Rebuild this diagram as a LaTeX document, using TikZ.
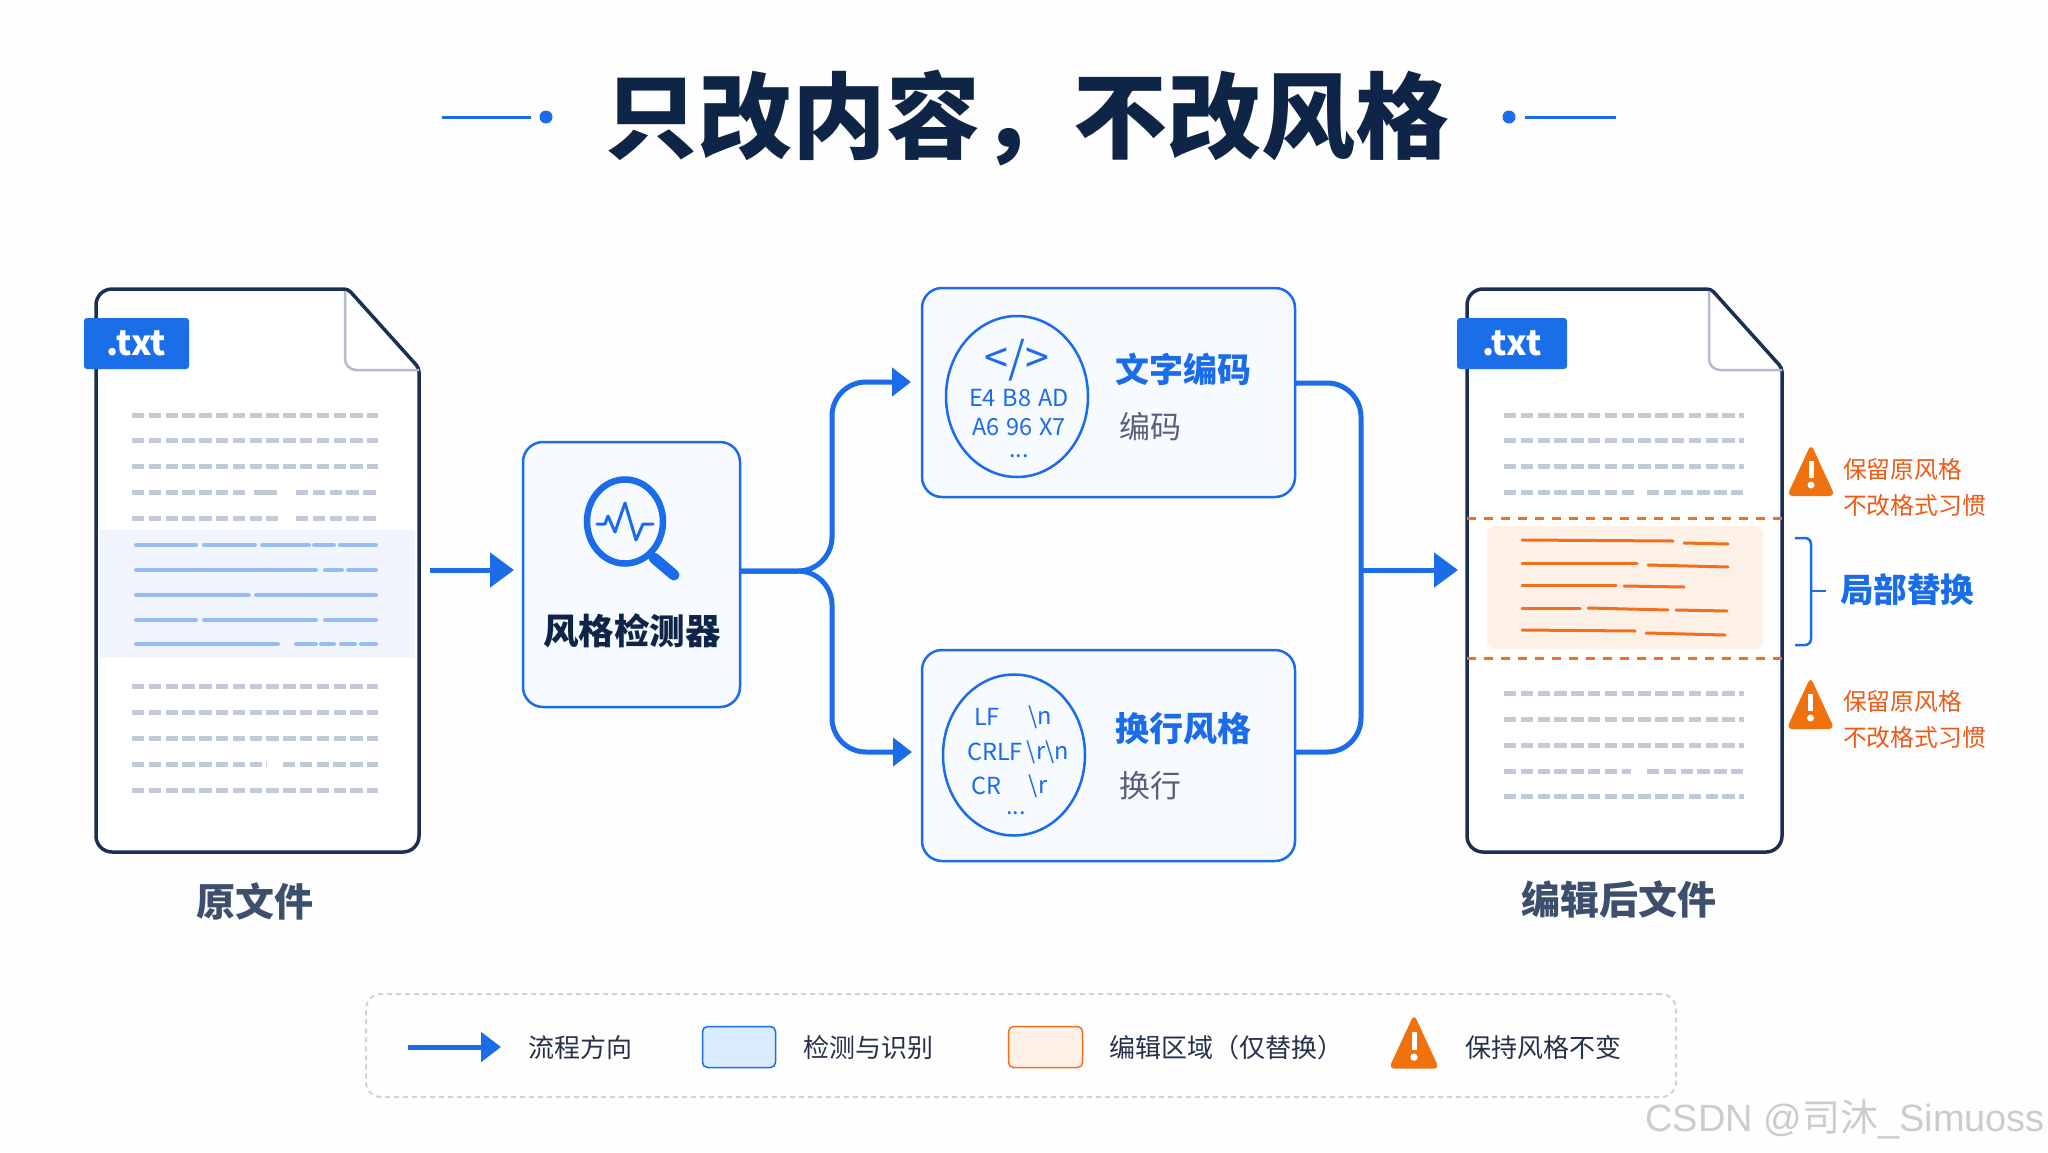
\documentclass[tikz,border=0pt]{standalone}
\usepackage{fontspec}
\setmainfont{Noto Sans CJK SC}
\newfontfamily\wmfont{Liberation Sans}
\usepackage{xcolor}
\usetikzlibrary{%
  arrows.meta, calc, positioning, shapes.geometric
}
\definecolor{pagewhite}{HTML}{FEFEFF}
\definecolor{flowblue}{HTML}{1A6CE8}
\definecolor{tabblue}{HTML}{1A6FE8}
\definecolor{docnavy}{HTML}{1B2F55}
\definecolor{titlenavy}{HTML}{0F2547}
\definecolor{foldgrey}{HTML}{B4BCCB}
\definecolor{dashgrey}{HTML}{C2C9D7}
\definecolor{bandblue}{HTML}{F1F6FE}
\definecolor{lineblue}{HTML}{97BDF2}
\definecolor{boxfill}{HTML}{F7FAFF}
\definecolor{editorange}{HTML}{F2701D}
\definecolor{editfill}{HTML}{FDF0E7}
\definecolor{warnorange}{HTML}{F0720F}
\definecolor{notered}{HTML}{EE5A14}
\definecolor{labelslate}{HTML}{3E4F6E}
\definecolor{subgrey}{HTML}{56607A}
\definecolor{legendink}{HTML}{26324C}
\definecolor{legendedge}{HTML}{CBD2E4}
\definecolor{markgrey}{HTML}{CCCCCC}
\newcommand{\fsz}[1]{\fontsize{#1}{#1}\selectfont}

\begin{document}
\begin{tikzpicture}[%
    x=1pt,y=-1pt,
    >={Triangle[length=24pt,width=34pt]},
    every node/.style={inner sep=0pt,outer sep=0pt,text centered},
    docbody/.style={minimum width=#1,minimum height=563pt},
    tab/.style={fill=tabblue,text=white,rounded corners=3pt,minimum height=51pt,font=\fsz{34.5}\bfseries},
    docline/.style={draw=docnavy,fill=white,line width=3.5pt},
    foldline/.style={draw=foldgrey,line width=2.5pt,rounded corners=11pt},
    greyline/.style={draw=dashgrey,line width=5pt,dash pattern=on 12.3pt off 4.5pt},
    blueline/.style={draw=lineblue,line width=4pt,line cap=round},
    orangeline/.style={draw=editorange,line width=3pt,line cap=round},
    box/.style={draw=flowblue,fill=boxfill,line width=2.5pt,rounded corners=20pt},
    flow/.style={draw=flowblue,line width=5pt},
    branch/.style={flow,rounded corners=34pt,>={Triangle[length=19pt,width=28pt]}},
    round/.style={draw=flowblue,line width=2.5pt,ellipse,minimum width=142pt,minimum height=161pt},
    code/.style={text=flowblue,font=\fsz{23.5}},
    boxtitle/.style={text=flowblue,font=\fsz{34}\bfseries},
    boxsub/.style={text=subgrey,font=\fsz{31}},
    doclabel/.style={text=labelslate,font=\fsz{39}\bfseries},
    note/.style={text=notered,font=\fsz{23.8},anchor=west},
    legendtext/.style={text=legendink,font=\fsz{26},anchor=west}
  ]

  \useasboundingbox (0,0) rectangle (2048,1152);
  \fill[pagewhite] (0,0) rectangle (2048,1152);

  % Title
  \node[text=titlenavy, font=\fsz{93.8}\bfseries] (title) at (1027,118) {只改内容，不改风格};
  \coordinate (ruleA) at (442,117);
  \coordinate (ruleB) at (531,117);
  \coordinate (ruleC) at (1525,117);
  \coordinate (ruleD) at (1616,117);
  \draw[flowblue, line width=3pt] (ruleA) to (ruleB);
  \draw[flowblue, line width=3pt] (ruleC) to (ruleD);
  \fill[flowblue] (546,117) circle (6.5);
  \fill[flowblue] (1509,117) circle (6.5);

  % Original file
  \node[docbody=323pt] (orig) at (257.5,570.5) {};
  \draw[docline, rounded corners=16pt] (orig.south west) -- (orig.north west)
    [rounded corners=4pt] -- ([xshift=-71pt]orig.north east)
    -- ([yshift=-79pt]orig.north east) [rounded corners=16pt] -- (orig.south east) -- cycle;
  \draw[foldline] ([xshift=-74pt,yshift=-2pt]orig.north east) -- ([xshift=-74pt,yshift=-81pt]orig.north east)
    -- ([yshift=-81pt]orig.north east);
  \node[tab, minimum width=105pt] (origtab) at (136.5,343.5) {\raisebox{-2pt}{.txt}};

  \foreach \y in {415,440,466,686,712,738,790}
    \draw[greyline] (132,\y) -- (378,\y);
  \draw[greyline] (132,492) -- (248,492);
  \draw[greyline, dash pattern=] (254,492) -- (277,492);
  \draw[greyline] (296,492) -- (378,492);
  \draw[greyline] (132,518) -- (278,518);
  \draw[greyline] (296,518) -- (378,518);
  \draw[greyline] (132,764) -- (267,764);
  \draw[greyline] (283,764) -- (378,764);

  % Highlighted band
  \fill[bandblue] (100,530) rectangle (415,658);
  \foreach \y/\a/\b in {545/136/196, 545/204/255, 545/262/309, 545/314/334, 545/340/376,
                        570/136/316, 570/325/342, 570/348/376,
                        595/136/249, 595/256/376,
                        620/136/196, 620/204/316, 620/325/376,
                        644/136/278, 644/296/316, 644/321/334, 644/341/355, 644/361/376}
    \draw[blueline] (\a,\y) -- (\b,\y);

  \node[doclabel, below=31pt of orig.south, anchor=north, xshift=-3pt] (origlabel) {原文件};

  % Detector
  \node[box, minimum width=217pt, minimum height=265pt] (det) at (631.5,574.5) {};
  \node[draw=flowblue, line width=6.5pt, ellipse, minimum width=76pt, minimum height=84pt] (lens) at (625,521.5) {};
  \coordinate (handleA) at (654,558);
  \coordinate (handleB) at (674,575);
  \draw[flowblue, line width=3.5pt] (lens) to (handleA);
  \draw[flowblue, line width=11pt, line cap=round] (handleA) to (handleB);
  \draw[flowblue, line width=3pt, line join=round, line cap=round] (597,524) -- (605,524) -- (608,516)
    -- (615,532) -- (625,503) -- (636,540) -- (643,524) -- (653,524);
  \node[text=titlenavy, font=\fsz{35.5}\bfseries] (detlabel) at (632,631) {风格检测器};

  % Encoding box
  \node[box, minimum width=373pt, minimum height=209pt] (enc) at (1108.5,392.5) {};
  \node[round] (enccirc) at (1017,396.5) {};
  \node[code, font=\fsz{43}] (enc0) at (1017,360) {</>};
  \node[code] (enc1) at (1019,398) {E4\hspace{7pt}B8\hspace{7pt}AD};
  \node[code, below=29pt of enc1.center, anchor=center] (enc2) {A6\hspace{7pt}96\hspace{7pt}X7};
  \node[code, below=29pt of enc2.center, anchor=center] (enc3) {...};
  \node[boxtitle] (enctitle) at (1183,369) {文字编码};
  \node[boxsub] (encsub) at (1150,427) {编码};

  % Line ending box
  \node[box, minimum width=373pt, minimum height=211pt] (eol) at (1108.5,755.5) {};
  \node[round] (eolcirc) at (1014,755) {};
  \node[code] (lf) at (987,717) {LF};
  \node[code] (lfb) at (1040,717) {\textbackslash n};
  \node[code] (crlf) at (995,752) {CRLF};
  \node[code] (crlfb) at (1048,752) {\textbackslash r\textbackslash n};
  \node[code] (cr) at (986,786) {CR};
  \node[code] (crb) at (1038,786) {\textbackslash r};
  \node[code] (eoldots) at (1016,813) {...};
  \node[boxtitle] (eoltitle) at (1183,729) {换行风格};
  \node[boxsub] (eolsub) at (1150,786) {换行};

  % Edited file
  \node[docbody=315pt] (edit) at (1624.5,570.5) {};
  \draw[docline, rounded corners=16pt] (edit.south west) -- (edit.north west)
    [rounded corners=4pt] -- ([xshift=-71pt]edit.north east)
    -- ([yshift=-79pt]edit.north east) [rounded corners=16pt] -- (edit.south east) -- cycle;
  \draw[foldline] ([xshift=-73pt,yshift=-2pt]edit.north east) -- ([xshift=-73pt,yshift=-81pt]edit.north east)
    -- ([yshift=-81pt]edit.north east);
  \node[tab, minimum width=110pt] (edittab) at (1512,343.5) {\raisebox{-2pt}{.txt}};

  \foreach \y in {415,440,466,693,719,745,796}
    \draw[greyline] (1504,\y) -- (1744,\y);
  \draw[greyline] (1504,492) -- (1638,492);
  \draw[greyline] (1647,492) -- (1744,492);
  \draw[greyline] (1504,771) -- (1631,771);
  \draw[greyline] (1647,771) -- (1744,771);

  % Edited region
  \fill[editfill, rounded corners=8pt] (1487,526) rectangle (1763,649);
  \draw[editorange, line width=3pt, dash pattern=on 9pt off 8pt] (edit.west |- 0,518) -- (edit.east |- 0,518);
  \draw[editorange, line width=3pt, dash pattern=on 9pt off 8pt] (edit.west |- 0,658) -- (edit.east |- 0,658);
  \foreach \a/\p/\b/\q in {1522/540/1673/541, 1684/543/1728/544,
                           1522/563/1637/563, 1648/565/1728/567,
                           1522/585/1616/585, 1624/586/1684/587,
                           1522/608/1580/608, 1588/608/1668/610, 1676/610/1727/611,
                           1522/630/1635/631, 1646/633/1725/635}
    \draw[orangeline] (\a,\p) -- (\b,\q);

  \node[doclabel, below=29pt of edit.south, anchor=north, xshift=-6pt] (editlabel) {编辑后文件};

  % Brace
  \node[text=flowblue, font=\fsz{33.5}\bfseries] (swap) at (1907,590) {局部替换};
  \coordinate (braceT) at (1795,538);
  \coordinate (braceB) at (1795,645);
  \coordinate (braceM) at (1826,591);
  \draw[flowblue, line width=2.5pt, rounded corners=6pt] (braceT) -| (1811,591) |- (braceB);
  \draw[flowblue, line width=2.5pt] (1811,591) to (braceM);

  % Warnings
  \foreach \wx/\wy/\ws in {1811/472/1, 1810.5/705/1, 1414/1043.5/1.05} {
    \begin{scope}[shift={(\wx,\wy)}, scale=\ws]
      \fill[warnorange, rounded corners=6pt] (0,-28) -- (24,24) -- (-24,24) -- cycle;
      \draw[white, line width=5pt] (0,-11) -- (0,6);
      \fill[white] (0,13) circle (3.5);
    \end{scope}
  }
  \node[note] (noteA) at (1843,469) {保留原风格};
  \node[note, below=36pt of noteA.west, anchor=west] (noteB) {不改格式习惯};
  \node[note] (noteC) at (1843,701) {保留原风格};
  \node[note, below=36pt of noteC.west, anchor=west] (noteD) {不改格式习惯};

  % Connectors
  \coordinate (origout) at (430,570);
  \coordinate (detin) at (514,570);
  \coordinate (detout) at (740,571);
  \coordinate (split) at (832,571);
  \coordinate (encin) at (911,382);
  \coordinate (eolin) at (912,752);
  \coordinate (encout) at (1295,383);
  \coordinate (eolout) at (1295,752);
  \coordinate (merge) at (1361,570);
  \coordinate (editin) at (1458,570);
  \draw[flow, ->] (origout) to (detin);
  \draw[branch, ->] (detout) -| (split |- encin) -- (encin);
  \draw[branch, ->] (detout) -| (split |- eolin) -- (eolin);
  \draw[branch] (encout) -| (merge |- eolout) -- (eolout);
  \draw[flow, ->] (merge) to (editin);

  % Legend
  \node[draw=legendedge, line width=2pt, dash pattern=on 5pt off 4pt, rounded corners=15pt,
    minimum width=1310pt, minimum height=103pt] (legend) at (1021,1045.5) {};
  \coordinate (legA) at (408,1047);
  \coordinate (legB) at (501,1047);
  \draw[flow, ->, >={Triangle[length=20pt,width=29pt]}] (legA) to (legB);
  \node[legendtext] (legflow) at (528,1048) {流程方向};
  \node[draw=flowblue, fill=blue!50!cyan!15, line width=1.5pt, rounded corners=5pt,
    minimum width=73pt, minimum height=41pt] (legblue) at (739,1047) {};
  \node[legendtext] (legdetect) at (803,1048) {检测与识别};
  \node[draw=editorange, fill=editfill, line width=1.5pt, rounded corners=5pt,
    minimum width=74pt, minimum height=41pt] (legorange) at (1045.5,1047) {};
  \node[legendtext] (legedit) at (1109,1048) {编辑区域（仅替换）};
  \node[legendtext] (legkeep) at (1465,1048) {保持风格不变};

  % Watermark
  \node[text=markgrey, font=\fsz{38}, anchor=east] (mark) at (2045,1119)
    {{\wmfont CSDN @}司沐{\wmfont \_Simuoss}};

\end{tikzpicture}
\end{document}
